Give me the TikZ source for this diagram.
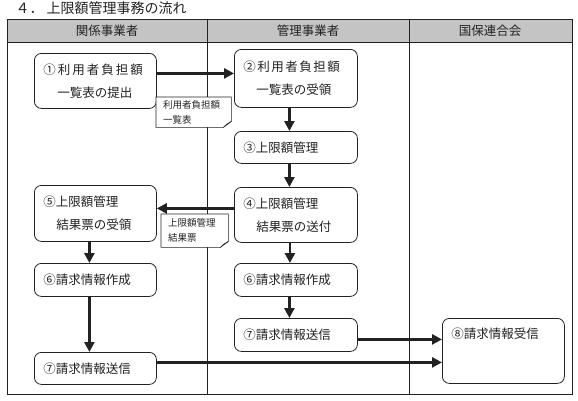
\documentclass[tikz,border=0pt]{standalone}
\usepackage{fontspec}
\setmainfont{Noto Sans CJK JP}
\usetikzlibrary{arrows.meta,positioning,calc}
\definecolor{ink}{HTML}{222222}
\definecolor{head}{HTML}{C4C4C4}
\newcommand\dogear[1]{%
  \draw[ink,line width=.6pt] (#1.north west) -- (#1.north east) -- ([yshift=6pt]#1.south east)
    -- ([xshift=-8pt]#1.south east) -- (#1.south west) -- cycle;
  \draw[ink,line width=.6pt] ([xshift=-8pt]#1.south east) -- ([xshift=-5pt,yshift=3pt]#1.south east)
    -- ([yshift=6pt]#1.south east);}

\begin{document}
\begin{tikzpicture}[x=1pt,y=-1pt,text=ink,
              b/.style={draw=ink,line width=.8pt,rounded corners=7pt,fill=white,anchor=north west,
              align=left,inner xsep=9pt,inner ysep=0pt,text width=104pt,
              font=\fontsize{12.5}{23}\selectfont},
              nt/.style={fill=white,anchor=north west,align=left,inner xsep=7pt,inner ysep=0pt,
              font=\fontsize{9.5}{15}\selectfont},
              hd/.style={font=\fontsize{12.5}{14}\selectfont},
              arr/.style={-{Triangle[length=10pt,width=10pt]},line width=2.6pt,ink}]
              \useasboundingbox (0,0) rectangle (578,400);
              \node[anchor=west,font=\fontsize{14}{16}\selectfont] (ttl) at (12,8) {４．\hspace{3pt}上限額管理事務の流れ};
              % table
              \fill[head] (7,19) rectangle (572,42);
              \draw[ink,line width=.8pt] (7,19) rectangle (572,394) (7,42) -- (572,42)
                (207,19) -- (207,394) (409,19) -- (409,394);
              \node[hd] (h1) at (107,31) {関係事業者};
              \node[hd] (h2) at (308,31) {管理事業者};
              \node[hd] (h3) at (490,31) {国保連合会};
              % boxes
              \node[b,minimum height=55pt] (b1) at (34,53)
                {{\addfontfeature{LetterSpace=16}①利用者負担額}\\\hspace*{14pt}一覧表の提出};
              \node[b,text width=105pt,minimum height=58pt] (b2) at (234,49)
                {{\addfontfeature{LetterSpace=12}②利用者負担額}\\\hspace*{13pt}一覧表の受領};
              \node[b,text width=105pt,minimum height=32pt] (b3) at (234,131) {③上限額管理};
              \node[b,text width=105pt,minimum height=55pt] (b4) at (234,187)
                {④上限額管理\\\hspace*{13pt}結果票の送付};
              \node[b,minimum height=56pt] (b5) at (34,185) {⑤上限額管理\\\hspace*{13pt}結果票の受領};
              \node[b,minimum height=33pt] (b6l) at (34,263) {⑥請求情報作成};
              \node[b,text width=105pt,minimum height=33pt] (b6r) at (234,263) {⑥請求情報作成};
              \node[b,text width=105pt,minimum height=33pt] (b7r) at (234,318) {⑦請求情報送信};
              \node[b,minimum height=32pt] (b7l) at (34,352) {⑦請求情報送信};
              \node[b,minimum height=65pt] (b8) at (442,318) {⑧請求情報受信\\[12pt]\mbox{}};
              % documents
              \node[nt,text width=61pt,minimum height=30pt] (d1) at (156,97) {利用者負担額\\一覧表};
              \dogear{d1}
              \node[nt,text width=53pt,minimum height=33pt] (d2) at (161,214) {上限額管理\\結果票};
              \dogear{d2}
              % flow
              \draw[arr] ([yshift=7.5pt]b1.east) -- ([yshift=7.5pt]b1.east -| b2.west);
              \draw[arr] ([xshift=-6.5pt]b2.south) -- ([xshift=-6.5pt]b2.south |- b3.north);
              \draw[arr] ([xshift=-6.5pt]b3.south) -- ([xshift=-6.5pt]b3.south |- b4.north);
              \draw[arr] ([yshift=6.5pt]b4.west) -- ([yshift=6.5pt]b4.west -| b5.east);
              \draw[arr] ([xshift=-6pt]b4.south) -- ([xshift=-6pt]b4.south |- b6r.north);
              \draw[arr] ([xshift=-6.5pt]b6r.south) -- ([xshift=-6.5pt]b6r.south |- b7r.north);
              \draw[arr] ([xshift=-6pt]b5.south) -- ([xshift=-6pt]b5.south |- b6l.north);
              \draw[arr] ([xshift=-6pt]b6l.south) -- ([xshift=-6pt]b6l.south |- b7l.north);
              \draw[arr] ([yshift=-4.5pt]b7r.east) -- ([yshift=-4.5pt]b7r.east -| b8.west);
              \draw[arr] ([yshift=6pt]b7l.east) -- ([yshift=6pt]b7l.east -| b8.west);
            \end{tikzpicture}
\end{document}
